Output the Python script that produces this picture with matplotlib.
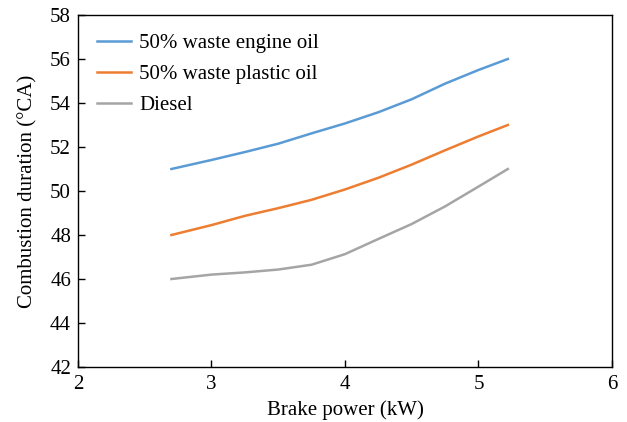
import numpy as np
import matplotlib.pyplot as plt

plt.rcParams['font.family'] = ['Liberation Serif', 'DejaVu Serif']

# brake power (kW)
power = [2.7, 3.0, 3.25, 3.5, 3.75, 4.0, 4.25, 4.5, 4.75, 5.0, 5.22]
engine_oil = [51.0, 51.41, 51.77, 52.15, 52.62, 53.07, 53.58, 54.17, 54.88, 55.5, 56.0]
plastic_oil = [48.0, 48.45, 48.87, 49.22, 49.6, 50.07, 50.6, 51.2, 51.85, 52.48, 53.0]
diesel = [46.0, 46.2, 46.3, 46.43, 46.65, 47.13, 47.82, 48.5, 49.3, 50.2, 51.0]

labels = ["50% waste engine oil", "50% waste plastic oil", "Diesel"]
colors = ["#5B9BD5", "#ED7D31", "#A5A5A5"]

fig = plt.figure(figsize=(6.27, 4.22), dpi=100)
ax = fig.add_axes([0.1244, 0.1303, 0.8516, 0.8342])

for ys, lab, c in zip([engine_oil, plastic_oil, diesel], labels, colors):
    ax.plot(power, ys, color=c, lw=1.8, label=lab)

ax.set_xlim(2, 6)
ax.set_ylim(42, 58)
ax.set_xticks(np.arange(2, 7, 1))
ax.set_yticks(np.arange(42, 59, 2))
ax.tick_params(direction='in', labelsize=15, length=5, width=1, top=False, right=False)
ax.tick_params(axis='x', pad=6)
ax.tick_params(axis='y', pad=5)
for s in ax.spines.values():
    s.set_linewidth(1.0)

ax.set_xlabel("Brake power (kW)", fontsize=15, labelpad=4)
ax.set_ylabel("Combustion duration (°CA)", fontsize=15, labelpad=9)

ax.legend(loc='upper left', frameon=False, fontsize=15, handlelength=1.65,
          handletextpad=0.4, labelspacing=0.55, borderaxespad=0.5)

fig.savefig("out.png", dpi=100)
